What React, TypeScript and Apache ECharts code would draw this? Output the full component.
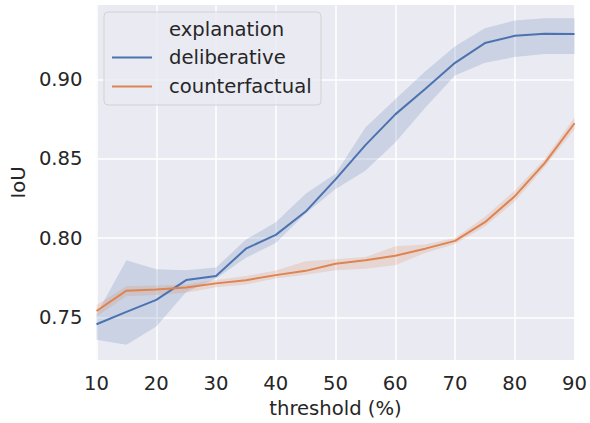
import React, { useEffect, useRef } from "react";
import * as echarts from "echarts";

// threshold (%) sampled every 5 points
const thresholds = [10, 15, 20, 25, 30, 35, 40, 45, 50, 55, 60, 65, 70, 75, 80, 85, 90];

// mean IoU and its confidence band per explanation type
const deliberative = [0.7456, 0.7534, 0.761, 0.7735, 0.776, 0.7933, 0.802, 0.8167, 0.837, 0.8586, 0.878, 0.894, 0.9105, 0.923, 0.9276, 0.9289, 0.9287];
const deliberativeLow = [0.7358, 0.7327, 0.7442, 0.766, 0.7745, 0.7875, 0.7969, 0.8154, 0.831, 0.8425, 0.8603, 0.8822, 0.9025, 0.9105, 0.9142, 0.9161, 0.9161];
const deliberativeHigh = [0.752, 0.786, 0.7803, 0.7797, 0.7814, 0.799, 0.81, 0.8279, 0.8405, 0.8697, 0.8875, 0.905, 0.921, 0.9324, 0.9372, 0.9387, 0.9387];

const counterfactual = [0.754, 0.7668, 0.7676, 0.7688, 0.7714, 0.7734, 0.7766, 0.7793, 0.7838, 0.786, 0.7888, 0.7933, 0.7982, 0.81, 0.8264, 0.8473, 0.8724];
const counterfactualLow = [0.7505, 0.7633, 0.764, 0.7655, 0.769, 0.7707, 0.7745, 0.7768, 0.7796, 0.7806, 0.7829, 0.7906, 0.7962, 0.8072, 0.823, 0.8448, 0.8686];
const counterfactualHigh = [0.7578, 0.7696, 0.77, 0.7707, 0.7735, 0.776, 0.7795, 0.7853, 0.7866, 0.788, 0.7948, 0.796, 0.8, 0.8134, 0.83, 0.8498, 0.876];

const yTicks = [0.75, 0.8, 0.85, 0.9];
const xTicks = [10, 20, 30, 40, 50, 60, 70, 80, 90];

const legendTitle = "explanation";
const seriesNames = ["deliberative", "counterfactual"];

const BLUE = "#4C72B0";
const ORANGE = "#DD8452";
const FONT = "DejaVu Sans";
const TEXT = "#262626";
const FS = 19.6;

function pairs(ys: number[]) {
  return thresholds.map((x, i) => [x, ys[i]]);
}

// confidence band: polygon along the upper bound, back along the lower bound
function bandSeries(low: number[], high: number[], fill: string) {
  return {
    type: "custom",
    silent: true,
    data: [0],
    renderItem: (_params: any, api: any) => {
      const upper = thresholds.map((x, i) => api.coord([x, high[i]]));
      const lower = thresholds.map((x, i) => api.coord([x, low[i]])).reverse();
      return {
        type: "polygon",
        shape: { points: upper.concat(lower) },
        style: { fill },
      };
    },
  };
}

function meanSeries(name: string, ys: number[], color: string) {
  return {
    type: "line",
    name,
    data: pairs(ys),
    symbol: "none",
    lineStyle: { color, width: 2 },
    itemStyle: { color },
  };
}

export default function App() {
  const ref = useRef<HTMLDivElement>(null);

  useEffect(() => {
    if (!ref.current) return;
    const chart = echarts.init(ref.current, undefined, { renderer: "svg" });

    const legendX = 104;
    const legendY = 12;
    const textX = 169;

    chart.setOption({
      animation: false,
      textStyle: { fontFamily: FONT },
      grid: {
        left: 95,
        right: 15,
        top: 5,
        bottom: 61,
        show: true,
        backgroundColor: "#EAEAF2",
        borderWidth: 0,
      },
      xAxis: {
        type: "value",
        min: 10,
        max: 90,
        interval: 10,
        name: "threshold (%)",
        nameLocation: "middle",
        nameGap: 37,
        nameTextStyle: { fontSize: FS, color: TEXT, fontFamily: FONT },
        axisLine: { show: false },
        axisTick: { show: false },
        axisLabel: {
          fontSize: FS,
          color: TEXT,
          fontFamily: FONT,
          margin: 13,
          customValues: xTicks,
        },
        splitLine: { show: true, lineStyle: { color: "#ffffff", width: 1.5 } },
      },
      yAxis: {
        type: "value",
        min: 0.723,
        max: 0.947,
        name: "IoU",
        nameLocation: "middle",
        nameGap: 63,
        nameTextStyle: { fontSize: FS, color: TEXT, fontFamily: FONT },
        axisLine: { show: false },
        axisTick: { show: false, customValues: yTicks },
        axisLabel: {
          fontSize: FS,
          color: TEXT,
          fontFamily: FONT,
          margin: 14,
          customValues: yTicks,
          formatter: (v: number) => v.toFixed(2),
        },
        splitLine: { show: true, lineStyle: { color: "#ffffff", width: 1.5 } },
      },
      series: [
        bandSeries(deliberativeLow, deliberativeHigh, "rgba(76,114,176,0.2)"),
        meanSeries(seriesNames[0], deliberative, BLUE),
        bandSeries(counterfactualLow, counterfactualHigh, "rgba(221,132,82,0.2)"),
        meanSeries(seriesNames[1], counterfactual, ORANGE),
      ],
      graphic: [
        {
          type: "rect",
          z: 100,
          shape: { x: legendX, y: legendY, width: 217, height: 93, r: 4 },
          style: { fill: "rgba(234,234,242,0.8)", stroke: "rgba(204,204,204,0.8)", lineWidth: 1 },
        },
        {
          type: "text",
          z: 101,
          style: {
            text: legendTitle,
            x: textX,
            y: 29,
            fontSize: FS,
            fontFamily: FONT,
            fill: TEXT,
            textVerticalAlign: "middle",
            verticalAlign: "middle",
          },
        },
        {
          type: "line",
          z: 101,
          shape: { x1: 112, y1: 57.5, x2: 152, y2: 57.5 },
          style: { stroke: BLUE, lineWidth: 2 },
        },
        {
          type: "text",
          z: 101,
          style: {
            text: seriesNames[0],
            x: textX,
            y: 57,
            fontSize: FS,
            fontFamily: FONT,
            fill: TEXT,
            textVerticalAlign: "middle",
            verticalAlign: "middle",
          },
        },
        {
          type: "line",
          z: 101,
          shape: { x1: 112, y1: 86.5, x2: 152, y2: 86.5 },
          style: { stroke: ORANGE, lineWidth: 2 },
        },
        {
          type: "text",
          z: 101,
          style: {
            text: seriesNames[1],
            x: textX,
            y: 86,
            fontSize: FS,
            fontFamily: FONT,
            fill: TEXT,
            textVerticalAlign: "middle",
            verticalAlign: "middle",
          },
        },
      ],
    });

    return () => chart.dispose();
  }, []);

  return (
    <div
      ref={ref}
      style={{ position: "fixed", left: 0, top: 0, width: 590, height: 423, background: "#ffffff" }}
    />
  );
}
